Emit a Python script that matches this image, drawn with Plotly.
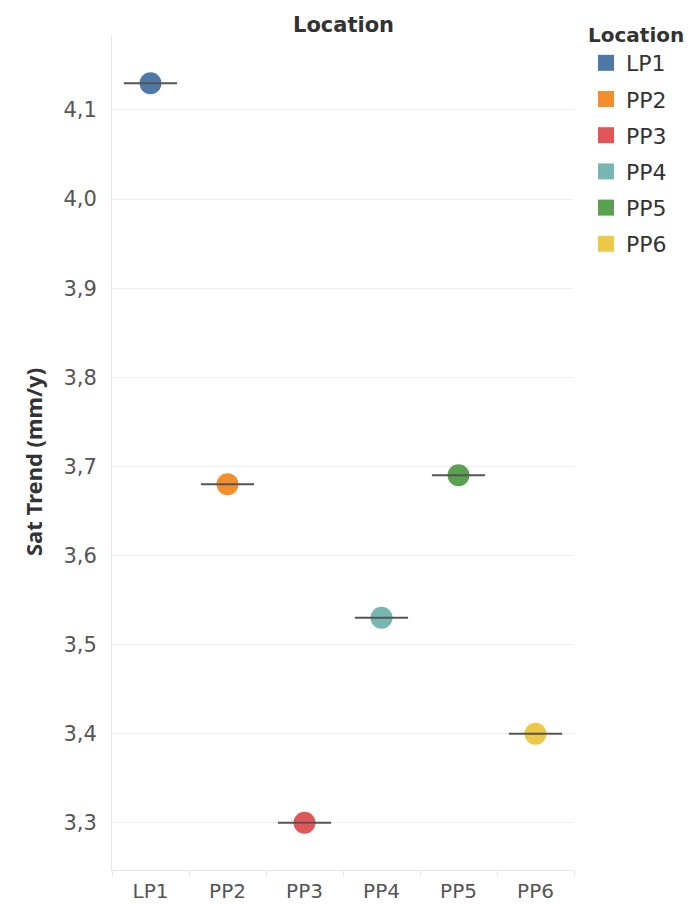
import plotly.graph_objects as go

locations = ["LP1", "PP2", "PP3", "PP4", "PP5", "PP6"]
sat_trend = [4.13, 3.68, 3.30, 3.53, 3.69, 3.40]
colors = ["#4e79a7", "#f28e2b", "#e15759", "#76b7b2", "#59a14f", "#edc948"]
y_ticks = [3.3, 3.4, 3.5, 3.6, 3.7, 3.8, 3.9, 4.0, 4.1]

FONT = "DejaVu Sans"
FONT_B = "Noto Sans"

fig = go.Figure()

for loc, val, col in zip(locations, sat_trend, colors):
    fig.add_trace(go.Scatter(
        x=[loc], y=[val], mode="markers",
        marker=dict(symbol="circle", size=22, color=col, line=dict(width=0)),
        showlegend=False, hoverinfo="x+y",
    ))
    fig.add_trace(go.Scatter(
        x=[loc], y=[val], mode="markers",
        marker=dict(symbol="line-ew", size=38, color="#555555",
                    line=dict(width=2, color="#555555")),
        showlegend=False, hoverinfo="skip",
    ))

for loc, col in zip(locations, colors):
    fig.add_trace(go.Scatter(
        x=[None], y=[None], mode="markers", name=loc, legendgroup=loc,
        marker=dict(symbol="square", size=17, color=col),
    ))

fig.update_layout(
    width=692, height=904,
    margin=dict(l=104, r=126, t=28, b=42, autoexpand=False),
    paper_bgcolor="white", plot_bgcolor="white",
    separators=", ",
    font=dict(family=FONT, size=21, color="#555555"),
    showlegend=True,
    legend=dict(
        xref="container", x=578 / 692, xanchor="left",
        yref="container", y=1 - 8 / 904, yanchor="top",
        title=dict(text="<b>Location</b>",
                   font=dict(size=20, color="#333333", family=FONT)),
        font=dict(size=22, color="#333333", family=FONT),
        tracegroupgap=4.6, itemwidth=30,
    ),
    annotations=[
        dict(
            text="<b>Location</b>", x=0.5, xref="paper", y=1.0, yref="paper",
            yanchor="middle", xanchor="center", showarrow=False, yshift=11,
            font=dict(size=21, color="#333333", family=FONT),
        ),
        dict(
            text="<b>Sat Trend (mm/y)</b>", x=0, xref="paper", y=0.5,
            yref="paper", xanchor="center", yanchor="middle",
            xshift=-79, yshift=-9, textangle=-90, showarrow=False,
            font=dict(size=22, color="#333333", family=FONT_B),
        ),
    ],
)

fig.update_xaxes(
    type="category", categoryorder="array", categoryarray=locations,
    range=[-0.5, 5.5], showgrid=False, showline=True, linecolor="#e6e6e6",
    linewidth=1, tickson="boundaries", ticks="outside", ticklen=5,
    tickcolor="#e6e6e6", ticklabelstandoff=3, zeroline=False,
    automargin=False, tickfont=dict(size=20),
)
fig.update_yaxes(
    range=[3.247, 4.183], tickvals=y_ticks, tickformat=".1f",
    showgrid=True, gridcolor="#f0f0f0", gridwidth=1, zeroline=False,
    showline=True, linecolor="#e6e6e6", ticks="", ticklabelstandoff=10,
    automargin=False,
)

fig.write_html("out.html")
